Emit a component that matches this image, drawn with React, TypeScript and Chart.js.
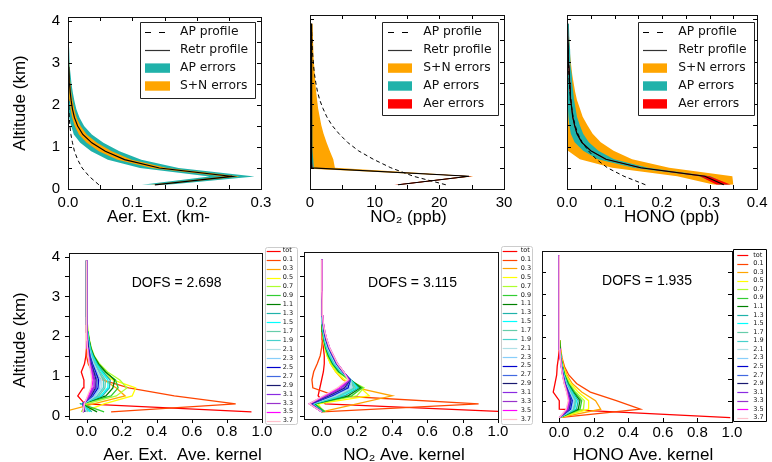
import React, { useEffect, useRef } from 'react';
import { Chart, registerables } from 'chart.js';

Chart.register(...registerables);

// ---------------- data ----------------
const ALT = [0.1, 0.3, 0.5, 0.7, 0.9, 1.1, 1.3, 1.5, 1.7, 1.9, 2.1, 2.3, 2.5, 2.7, 2.9, 3.1, 3.3, 3.5, 3.7, 3.9];

// Aerosol extinction (km-1)
const AER_RETR = [0.135, 0.255, 0.142, 0.088, 0.058, 0.037, 0.023, 0.015, 0.010, 0.007, 0.005, 0.0035, 0.0025, 0.0018, 0.0013, 0.001, 0.0008, 0.0006, 0.0004, 0.0003];
const AER_AP = [0.048, 0.033, 0.022, 0.015, 0.010, 0.007, 0.0045, 0.003, 0.002, 0.0014, 0.001, 0.0007, 0.0005, 0.0003, 0.0002, 0.0001, 0.0001, 0.0001, 0, 0];
const AER_ERR_AP = [0.02, 0.035, 0.03, 0.026, 0.022, 0.018, 0.014, 0.01, 0.008, 0.006, 0.005, 0.004, 0.003, 0.0024, 0.0018, 0.0014, 0.0011, 0.0009, 0.0007, 0.0005];
const AER_ERR_SN = [0.007, 0.012, 0.012, 0.011, 0.01, 0.008, 0.006, 0.0045, 0.0035, 0.0028, 0.0022, 0.0017, 0.0013, 0.001, 0.0008, 0.0006, 0.0005, 0.0004, 0.0003, 0.0002];

// NO2 (ppb)
const NO2_RETR = [13.6, 24.6, 0.3, 0.25, 0.25, 0.25, 0.25, 0.25, 0.25, 0.25, 0.25, 0.25, 0.25, 0.25, 0.25, 0.25, 0.25, 0.25, 0.25, 0.25];
const NO2_AP = [21, 16, 12.5, 9.8, 7.5, 5.8, 4.5, 3.4, 2.6, 2.0, 1.5, 1.15, 0.9, 0.7, 0.55, 0.45, 0.35, 0.3, 0.25, 0.2];
const NO2_ERR_SN = [0.4, 0.7, 3.55, 3.35, 2.8, 2.3, 1.85, 1.5, 1.25, 1.0, 0.85, 0.7, 0.58, 0.48, 0.4, 0.33, 0.27, 0.22, 0.18, 0.15];
const NO2_ERR_AP = [0.3, 0.4, 0.3, 0.25, 0.2, 0.15, 0.12, 0.1, 0.08, 0.07, 0.06, 0.05, 0.04, 0.04, 0.03, 0.03, 0.03, 0.02, 0.02, 0.02];
const NO2_ERR_AER = [0.6, 0.5, 0.1, 0.05, 0.04, 0.03, 0.02, 0.02, 0.01, 0.01, 0.01, 0.01, 0.01, 0.01, 0.01, 0.01, 0.01, 0.01, 0.01, 0.01];

// HONO (ppb)
const HONO_RETR = [0.33, 0.29, 0.155, 0.082, 0.05, 0.031, 0.021, 0.016, 0.012, 0.010, 0.008, 0.007, 0.006, 0.005, 0.004, 0.003, 0.0025, 0.002, 0.0015, 0.001];
const HONO_AP = [0.165, 0.12, 0.085, 0.062, 0.045, 0.032, 0.023, 0.017, 0.013, 0.010, 0.008, 0.006, 0.005, 0.004, 0.003, 0.0025, 0.002, 0.0015, 0.001, 0.001];
const HONO_ERR_SN = [0.02, 0.058, 0.06, 0.055, 0.048, 0.04, 0.033, 0.027, 0.021, 0.017, 0.013, 0.01, 0.008, 0.006, 0.005, 0.004, 0.003, 0.003, 0.002, 0.002];
const HONO_ERR_AP = [0.01, 0.012, 0.015, 0.017, 0.016, 0.015, 0.013, 0.011, 0.009, 0.008, 0.007, 0.006, 0.005, 0.005, 0.004, 0.004, 0.004, 0.003, 0.003, 0.003];
const HONO_ERR_AER = [0.015, 0.01, 0.004, 0.002, 0.001, 0.001, 0.001, 0.001, 0.001, 0.001, 0.001, 0.001, 0.001, 0.001, 0.001, 0.001, 0.001, 0.001, 0.001, 0.001];

// Averaging kernels
const AK_LABELS = ['tot', '0.1', '0.3', '0.5', '0.7', '0.9', '1.1', '1.3', '1.5', '1.7', '1.9', '2.1', '2.3', '2.5', '2.7', '2.9', '3.1', '3.3', '3.5', '3.7'];
const AK_COLORS = ['#ff0000', '#ff4500', '#ffa500', '#ffff00', '#adff2f', '#32cd32', '#008000', '#20b2aa', '#00ffff', '#66cdaa', '#48d1cc', '#b0e0e6', '#87cefa', '#0000cd', '#4169e1', '#191970', '#8a2be2', '#9932cc', '#ff00ff', '#ffc0cb'];

const AER_AK = [
  [0.94, -0.01, -0.05, -0.02, -0.015, -0.03, -0.012, -0.004, 0, 0, 0, 0, 0, 0, 0, 0, 0, 0, 0, 0],
  [0.14, 0.85, 0.50, 0.24, 0.09, 0.035, 0.01, 0.0, 0, 0, 0, 0, 0, 0, 0, 0, 0, 0, 0, 0],
  [-0.13, 0.04, 0.22, 0.17, 0.10, 0.06, 0.035, 0.02, 0.01, 0.005, 0.002, 0, 0, 0, 0, 0, 0, 0, 0, 0],
  [-0.02, 0.10, 0.26, 0.28, 0.15, 0.09, 0.055, 0.032, 0.018, 0.01, 0.005, 0.002, 0, 0, 0, 0, 0, 0, 0, 0],
  [-0.03, 0.0, 0.17, 0.23, 0.19, 0.12, 0.075, 0.045, 0.028, 0.017, 0.01, 0.005, 0.002, 0, 0, 0, 0, 0, 0, 0],
  [0.10, -0.03, 0.14, 0.18, 0.165, 0.105, 0.065, 0.04, 0.024, 0.014, 0.007, 0.003, 0.001, 0, 0, 0, 0, 0, 0, 0],
  [0.06, -0.03, 0.11, 0.15, 0.16, 0.11, 0.07, 0.042, 0.025, 0.015, 0.008, 0.003, 0.001, 0, 0, 0, 0, 0, 0, 0],
  [0.03, -0.03, 0.09, 0.13, 0.135, 0.095, 0.062, 0.038, 0.022, 0.013, 0.007, 0.003, 0.001, 0, 0, 0, 0, 0, 0, 0],
  [0.02, -0.028, 0.08, 0.12, 0.122, 0.086, 0.056, 0.034, 0.02, 0.012, 0.006, 0.002, 0.001, 0, 0, 0, 0, 0, 0, 0],
  [0.01, -0.026, 0.07, 0.105, 0.108, 0.078, 0.05, 0.03, 0.018, 0.01, 0.005, 0.002, 0.001, 0, 0, 0, 0, 0, 0, 0],
  [0.0, -0.025, 0.06, 0.095, 0.097, 0.071, 0.046, 0.028, 0.016, 0.009, 0.004, 0.002, 0.001, 0, 0, 0, 0, 0, 0, 0],
  [0.0, -0.022, 0.05, 0.085, 0.087, 0.064, 0.042, 0.025, 0.014, 0.008, 0.004, 0.002, 0.001, 0, 0, 0, 0, 0, 0, 0],
  [-0.01, -0.021, 0.045, 0.075, 0.078, 0.058, 0.038, 0.023, 0.013, 0.007, 0.003, 0.001, 0, 0, 0, 0, 0, 0, 0, 0],
  [-0.01, -0.02, 0.035, 0.065, 0.069, 0.052, 0.034, 0.02, 0.012, 0.006, 0.003, 0.001, 0, 0, 0, 0, 0, 0, 0, 0],
  [-0.01, -0.02, 0.03, 0.057, 0.061, 0.046, 0.03, 0.018, 0.01, 0.005, 0.002, 0.001, 0, 0, 0, 0, 0, 0, 0, 0],
  [-0.012, -0.019, 0.025, 0.05, 0.054, 0.041, 0.027, 0.016, 0.009, 0.005, 0.002, 0.001, 0, 0, 0, 0, 0, 0, 0, 0],
  [-0.015, -0.018, 0.02, 0.043, 0.048, 0.036, 0.024, 0.014, 0.008, 0.004, 0.002, 0.001, 0.001, 0.001, 0.001, 0.001, 0.001, 0.001, 0.001, 0.001],
  [-0.016, -0.016, 0.015, 0.037, 0.042, 0.032, 0.021, 0.012, 0.007, 0.003, 0.002, 0.001, 0.001, 0.001, 0.001, 0.001, 0.001, 0.001, 0.001, 0.001],
  [-0.018, -0.014, 0.01, 0.03, 0.036, 0.028, 0.018, 0.011, 0.006, 0.003, 0.001, 0.001, 0, 0, 0, 0, 0, 0, 0, 0],
  [-0.02, -0.012, 0.005, 0.024, 0.03, 0.024, 0.016, 0.01, 0.005, 0.002, 0.001, 0.001, 0, 0, 0, 0, 0, 0, 0, 0],
];

const NO2_AK = [
  [1.05, 0.02, -0.02, -0.01, 0.0, 0.01, 0.015, 0.015, 0.01, 0.006, 0.003, 0.001, 0, 0, 0, 0, 0, 0, 0, 0],
  [0.0, 0.89, 0.08, -0.05, -0.055, -0.045, -0.025, -0.008, 0.0, 0.004, 0.003, 0.001, 0, 0, 0, 0, 0, 0, 0, 0],
  [0.0, 0.2, 0.4, 0.2, 0.12, 0.08, 0.05, 0.032, 0.02, 0.011, 0.006, 0.003, 0.001, 0, 0, 0, 0, 0, 0, 0],
  [0.01, -0.02, 0.27, 0.22, 0.13, 0.08, 0.05, 0.03, 0.018, 0.01, 0.005, 0.002, 0.001, 0, 0, 0, 0, 0, 0, 0],
  [0.02, -0.035, 0.2, 0.24, 0.15, 0.09, 0.056, 0.034, 0.02, 0.011, 0.006, 0.003, 0.001, 0, 0, 0, 0, 0, 0, 0],
  [0.02, -0.04, 0.17, 0.23, 0.16, 0.095, 0.06, 0.037, 0.022, 0.012, 0.006, 0.003, 0.001, 0, 0, 0, 0, 0, 0, 0],
  [0.01, -0.045, 0.15, 0.22, 0.165, 0.1, 0.064, 0.04, 0.024, 0.013, 0.007, 0.003, 0.001, 0, 0, 0, 0, 0, 0, 0],
  [0.01, -0.05, 0.13, 0.21, 0.165, 0.104, 0.067, 0.043, 0.026, 0.015, 0.008, 0.004, 0.002, 0.001, 0, 0, 0, 0, 0, 0],
  [0.0, -0.05, 0.11, 0.2, 0.165, 0.108, 0.07, 0.046, 0.028, 0.016, 0.009, 0.004, 0.002, 0.001, 0, 0, 0, 0, 0, 0],
  [0.0, -0.055, 0.1, 0.19, 0.165, 0.111, 0.073, 0.049, 0.03, 0.018, 0.01, 0.005, 0.002, 0.001, 0.001, 0, 0, 0, 0, 0],
  [0.0, -0.055, 0.09, 0.18, 0.165, 0.114, 0.076, 0.052, 0.032, 0.019, 0.011, 0.005, 0.003, 0.002, 0.001, 0.001, 0, 0, 0, 0],
  [0.0, -0.06, 0.08, 0.17, 0.165, 0.116, 0.079, 0.055, 0.034, 0.021, 0.012, 0.006, 0.003, 0.002, 0.001, 0.001, 0.001, 0, 0, 0],
  [0.0, -0.06, 0.07, 0.16, 0.164, 0.118, 0.082, 0.058, 0.036, 0.022, 0.013, 0.007, 0.004, 0.002, 0.002, 0.001, 0.001, 0.001, 0, 0],
  [0.0, -0.06, 0.06, 0.15, 0.163, 0.12, 0.084, 0.061, 0.039, 0.024, 0.014, 0.008, 0.004, 0.003, 0.002, 0.001, 0.001, 0.001, 0.001, 0.001],
  [0.0, -0.065, 0.05, 0.14, 0.162, 0.122, 0.086, 0.063, 0.041, 0.026, 0.015, 0.008, 0.005, 0.003, 0.002, 0.002, 0.001, 0.001, 0.001, 0.001],
  [0.0, -0.065, 0.04, 0.13, 0.16, 0.123, 0.088, 0.065, 0.043, 0.027, 0.016, 0.009, 0.005, 0.003, 0.002, 0.002, 0.001, 0.001, 0.001, 0.001],
  [0.0, -0.065, 0.03, 0.12, 0.158, 0.124, 0.089, 0.066, 0.044, 0.028, 0.017, 0.01, 0.006, 0.004, 0.003, 0.002, 0.002, 0.001, 0.001, 0.001],
  [0.0, -0.07, 0.02, 0.11, 0.155, 0.124, 0.09, 0.067, 0.045, 0.029, 0.018, 0.01, 0.006, 0.004, 0.003, 0.002, 0.002, 0.001, 0.001, 0.001],
  [0.0, -0.07, 0.015, 0.1, 0.152, 0.125, 0.09, 0.068, 0.045, 0.03, 0.018, 0.01, 0.006, 0.004, 0.003, 0.002, 0.002, 0.001, 0.001, 0.001],
  [0.0, -0.07, 0.01, 0.09, 0.15, 0.125, 0.09, 0.068, 0.045, 0.03, 0.018, 0.01, 0.006, 0.004, 0.003, 0.002, 0.002, 0.001, 0.001, 0.001],
];

const HONO_AK = [
  [0.99, 0.0, 0.0, -0.035, -0.025, -0.015, -0.012, -0.005, 0, 0, 0, 0, 0, 0, 0, 0, 0, 0, 0, 0],
  [0.0, 0.47, 0.33, 0.18, 0.1, 0.055, 0.03, 0.016, 0.008, 0.004, 0.002, 0, 0, 0, 0, 0, 0, 0, 0, 0],
  [0.0, 0.24, 0.21, 0.13, 0.075, 0.045, 0.026, 0.014, 0.007, 0.003, 0.001, 0, 0, 0, 0, 0, 0, 0, 0, 0],
  [0.0, 0.17, 0.17, 0.11, 0.065, 0.04, 0.023, 0.012, 0.006, 0.003, 0.001, 0, 0, 0, 0, 0, 0, 0, 0, 0],
  [0.0, 0.14, 0.145, 0.095, 0.058, 0.035, 0.02, 0.011, 0.005, 0.002, 0.001, 0, 0, 0, 0, 0, 0, 0, 0, 0],
  [0.0, 0.12, 0.13, 0.088, 0.054, 0.032, 0.019, 0.01, 0.005, 0.002, 0.001, 0, 0, 0, 0, 0, 0, 0, 0, 0],
  [0.0, 0.11, 0.12, 0.082, 0.05, 0.03, 0.018, 0.01, 0.005, 0.002, 0.001, 0, 0, 0, 0, 0, 0, 0, 0, 0],
  [0.0, 0.1, 0.11, 0.077, 0.047, 0.028, 0.017, 0.009, 0.004, 0.002, 0.001, 0, 0, 0, 0, 0, 0, 0, 0, 0],
  [0.0, 0.09, 0.1, 0.072, 0.044, 0.027, 0.016, 0.009, 0.004, 0.002, 0.001, 0, 0, 0, 0, 0, 0, 0, 0, 0],
  [0.0, 0.085, 0.095, 0.068, 0.042, 0.026, 0.015, 0.008, 0.004, 0.002, 0.001, 0, 0, 0, 0, 0, 0, 0, 0, 0],
  [0.0, 0.08, 0.09, 0.064, 0.04, 0.025, 0.015, 0.008, 0.004, 0.002, 0.001, 0, 0, 0, 0, 0, 0, 0, 0, 0],
  [0.0, 0.075, 0.085, 0.06, 0.038, 0.024, 0.014, 0.008, 0.004, 0.002, 0.001, 0, 0, 0, 0, 0, 0, 0, 0, 0],
  [0.0, 0.07, 0.08, 0.057, 0.036, 0.023, 0.014, 0.007, 0.003, 0.002, 0.001, 0, 0, 0, 0, 0, 0, 0, 0, 0],
  [0.0, 0.065, 0.075, 0.054, 0.034, 0.022, 0.013, 0.007, 0.003, 0.002, 0.001, 0, 0, 0, 0, 0, 0, 0, 0, 0],
  [0.0, 0.06, 0.07, 0.052, 0.033, 0.021, 0.013, 0.007, 0.003, 0.001, 0.001, 0, 0, 0, 0, 0, 0, 0, 0, 0],
  [0.0, 0.056, 0.066, 0.05, 0.032, 0.02, 0.012, 0.006, 0.003, 0.001, 0.001, 0, 0, 0, 0, 0, 0, 0, 0, 0],
  [0.0, 0.052, 0.062, 0.048, 0.031, 0.02, 0.012, 0.006, 0.003, 0.001, 0.001, 0, 0, 0, 0, 0, 0, 0, 0, 0],
  [0.0, 0.048, 0.058, 0.046, 0.03, 0.019, 0.012, 0.006, 0.003, 0.001, 0.001, 0, 0, 0, 0, 0, 0, 0, 0, 0],
  [0.0, 0.044, 0.055, 0.044, 0.029, 0.019, 0.011, 0.006, 0.003, 0.001, 0.001, 0, 0, 0, 0, 0, 0, 0, 0, 0],
  [0.0, 0.04, 0.052, 0.042, 0.028, 0.018, 0.011, 0.006, 0.003, 0.001, 0.001, 0, 0, 0, 0, 0, 0, 0, 0, 0],
];

const DOFS = ['2.698', '3.115', '1.935'];

// tick values
const ALT_LABELS = [0, 1, 2, 3, 4];
const ALT_MARKS = [0, 0.5, 1, 1.5, 2, 2.5, 3, 3.5, 4];
const AER_X_LABELS = [0, 0.1, 0.2, 0.3];
const AER_X_MARKS = [0, 0.05, 0.1, 0.15, 0.2, 0.25, 0.3];
const NO2_X_LABELS = [0, 10, 20, 30];
const NO2_X_MARKS = [0, 5, 10, 15, 20, 25, 30];
const HONO_X_LABELS = [0, 0.1, 0.2, 0.3, 0.4];
const HONO_X_MARKS = [0, 0.05, 0.1, 0.15, 0.2, 0.25, 0.3, 0.35, 0.4];
const AK_X_LABELS = [0, 0.2, 0.4, 0.6, 0.8, 1.0];

// ---------------- styling ----------------
const TEAL = '#20b2aa';
const ORANGE = '#ffa500';
const RED = '#ff0000';
const SANS = "'Liberation Sans', Arial, sans-serif";
const TICK_FONT = { family: SANS, size: 15 };
const TITLE_FONT = `17px ${SANS}`;
const DOFS_FONT = `14px ${SANS}`;
const LEG_FONT = "12.3px 'DejaVu Sans', sans-serif";
const SMALL_FONT = "6.5px 'DejaVu Sans', sans-serif";

const pts = (xs: number[]) => ALT.map((a, i) => ({ x: xs[i], y: a }));

function lineSet(xs: number[], color: string, width: number, dash?: number[]) {
  return { data: pts(xs), borderColor: color, borderWidth: width, borderDash: dash || [], pointRadius: 0, fill: false };
}
function bandSets(center: number[], hw: number[], color: string) {
  return [
    { data: pts(center.map((c, i) => c - hw[i])), borderWidth: 0, borderColor: 'rgba(0,0,0,0)', backgroundColor: color, fill: '+1', pointRadius: 0 },
    { data: pts(center.map((c, i) => c + hw[i])), borderWidth: 0, borderColor: 'rgba(0,0,0,0)', backgroundColor: color, fill: false, pointRadius: 0 },
  ];
}
function akSets(rows: number[][]) {
  return rows.map((r, i) => ({
    label: AK_LABELS[i], data: pts(r), borderColor: AK_COLORS[i], borderWidth: 1.3,
    pointRadius: 0, fill: false, order: rows.length - i,
  }));
}

type Rect = { x: number; y: number; w: number; h: number };
type Spec = {
  rect: Rect; frame: { l: number; r: number; t: number; b: number };
  xMin: number; xMax: number; yMin: number; yMax: number;
  xLabels: number[]; xFmt: (v: number) => string; xMarks: number[]; xPad: number;
  yLabels: number[] | null; yMarks: number[]; yPad: number;
  tickDir: number; tickSides: string[];
  datasets: any[];
  legend: any;
  texts: any[];
};

const fmt1 = (v: number) => v.toFixed(1);
const fmt0 = (v: number) => String(Math.round(v));

function topLegend(box: Rect, hx0: number, hx1: number, tx: number, items: any[]) {
  return { box, hx0, hx1, tx, y0: 32.3, dy: 17.9, ph: 9.4, lw: 1.2, font: LEG_FONT, border: '#222', radius: 0, items, dash: [6, 8] };
}
function akLegend(box: Rect, hx0: number, hx1: number, tx: number, y0: number, dy: number, border: string, radius: number) {
  return {
    box, hx0, hx1, tx, y0, dy, ph: 0, lw: 1.2, font: SMALL_FONT, border, radius, dash: [],
    items: AK_LABELS.map((l, i) => ({ label: l, kind: 'line', color: AK_COLORS[i] })),
  };
}

const LEG_AER = [
  { label: 'AP profile', kind: 'dash', color: '#000' },
  { label: 'Retr profile', kind: 'line', color: '#333' },
  { label: 'AP errors', kind: 'patch', color: TEAL },
  { label: 'S+N errors', kind: 'patch', color: ORANGE },
];
const LEG_GAS = [
  { label: 'AP profile', kind: 'dash', color: '#000' },
  { label: 'Retr profile', kind: 'line', color: '#333' },
  { label: 'S+N errors', kind: 'patch', color: ORANGE },
  { label: 'AP errors', kind: 'patch', color: TEAL },
  { label: 'Aer errors', kind: 'patch', color: RED },
];

const SPECS: Spec[] = [
  {
    rect: { x: 0, y: 0, w: 280, h: 235 }, frame: { l: 68, r: 261, t: 15, b: 189 },
    xMin: 0, xMax: 0.3, yMin: 0, yMax: 4.1,
    xLabels: AER_X_LABELS, xFmt: fmt1, xMarks: AER_X_MARKS, xPad: 4.5,
    yLabels: ALT_LABELS, yMarks: ALT_MARKS, yPad: 8,
    tickDir: 1, tickSides: ['left', 'right', 'top', 'bottom'],
    datasets: [
      lineSet(AER_RETR, '#000', 1.2),
      lineSet(AER_AP, '#000', 1, [4, 3]),
      ...bandSets(AER_RETR, AER_ERR_SN, ORANGE),
      ...bandSets(AER_RETR, AER_ERR_AP, TEAL),
    ],
    legend: topLegend({ x: 140, y: 21.7, w: 115, h: 76 }, 145, 170, 180, LEG_AER),
    texts: [
      { text: 'Altitude (km)', x: 20, y: 103, font: TITLE_FONT, align: 'center', rot: true },
      { text: 'Aer. Ext. (km-', x: 107, y: 217, font: TITLE_FONT, align: 'left' },
    ],
  },
  {
    rect: { x: 275, y: 0, w: 245, h: 235 }, frame: { l: 310, r: 504, t: 15, b: 189 },
    xMin: 0, xMax: 30, yMin: 0, yMax: 4.1,
    xLabels: NO2_X_LABELS, xFmt: fmt0, xMarks: NO2_X_MARKS, xPad: 4.5,
    yLabels: null, yMarks: ALT_MARKS, yPad: 8,
    tickDir: 1, tickSides: ['left', 'right', 'top', 'bottom'],
    datasets: [
      lineSet(NO2_RETR, '#000', 1.2),
      lineSet(NO2_AP, '#000', 1, [4, 3]),
      ...bandSets(NO2_RETR, NO2_ERR_AER, RED),
      ...bandSets(NO2_RETR, NO2_ERR_AP, TEAL),
      ...bandSets(NO2_RETR, NO2_ERR_SN, ORANGE),
    ],
    legend: topLegend({ x: 381.7, y: 21.7, w: 116, h: 93.3 }, 388, 412, 423.3, LEG_GAS),
    texts: [{ text: 'NO₂ (ppb)', x: 408.5, y: 217, font: TITLE_FONT, align: 'center' }],
  },
  {
    rect: { x: 515, y: 0, w: 257, h: 235 }, frame: { l: 567, r: 759, t: 15, b: 189 },
    xMin: 0, xMax: 0.4, yMin: 0, yMax: 4.1,
    xLabels: HONO_X_LABELS, xFmt: fmt1, xMarks: HONO_X_MARKS, xPad: 4.5,
    yLabels: null, yMarks: ALT_MARKS, yPad: 8,
    tickDir: 1, tickSides: ['left', 'right', 'top', 'bottom'],
    datasets: [
      lineSet(HONO_RETR, '#000', 1.2),
      lineSet(HONO_AP, '#000', 1, [4, 3]),
      ...bandSets(HONO_RETR, HONO_ERR_AER, RED),
      ...bandSets(HONO_RETR, HONO_ERR_AP, TEAL),
      ...bandSets(HONO_RETR, HONO_ERR_SN, ORANGE),
    ],
    legend: topLegend({ x: 638.3, y: 21.7, w: 116, h: 93.3 }, 643, 667, 678.3, LEG_GAS),
    texts: [{ text: 'HONO (ppb)', x: 671.7, y: 217, font: TITLE_FONT, align: 'center' }],
  },
  {
    rect: { x: 0, y: 235, w: 300, h: 227 }, frame: { l: 69, r: 262, t: 252, b: 419 },
    xMin: -0.1, xMax: 1.0, yMin: -0.08, yMax: 4.09,
    xLabels: AK_X_LABELS, xFmt: fmt1, xMarks: AK_X_LABELS, xPad: 3.7,
    yLabels: ALT_LABELS, yMarks: ALT_MARKS, yPad: 9,
    tickDir: -1, tickSides: ['left', 'bottom'],
    datasets: akSets(AER_AK),
    legend: akLegend({ x: 265, y: 246.7, w: 31.7, h: 176.6 }, 266.7, 280.7, 282.7, 250.7, 8.95, '#cccccc', 2),
    texts: [
      { text: 'Altitude (km)', x: 20, y: 340, font: TITLE_FONT, align: 'center', rot: true },
      { text: 'Aer. Ext.  Ave. kernel', x: 182.5, y: 455, font: TITLE_FONT, align: 'center' },
      { text: `DOFS = ${DOFS[0]}`, x: 176.7, y: 283.5, font: DOFS_FONT, align: 'center' },
    ],
  },
  {
    rect: { x: 300, y: 235, w: 235, h: 227 }, frame: { l: 304, r: 498, t: 252, b: 419 },
    xMin: -0.1, xMax: 1.0, yMin: -0.08, yMax: 4.09,
    xLabels: AK_X_LABELS, xFmt: fmt1, xMarks: AK_X_LABELS, xPad: 3.7,
    yLabels: null, yMarks: ALT_MARKS, yPad: 9,
    tickDir: -1, tickSides: ['left', 'bottom'],
    datasets: akSets(NO2_AK),
    legend: akLegend({ x: 501, y: 246, w: 31, h: 178 }, 502.7, 517.3, 520.7, 250.7, 8.85, '#cccccc', 2),
    texts: [
      { text: 'NO₂ Ave. kernel', x: 404, y: 455, font: TITLE_FONT, align: 'center' },
      { text: `DOFS = ${DOFS[1]}`, x: 412.5, y: 283.5, font: DOFS_FONT, align: 'center' },
    ],
  },
  {
    rect: { x: 535, y: 235, w: 237, h: 227 }, frame: { l: 542, r: 732, t: 251, b: 422 },
    xMin: -0.1, xMax: 1.0, yMin: 0, yMax: 4,
    xLabels: AK_X_LABELS, xFmt: fmt1, xMarks: AK_X_LABELS, xPad: 1.5,
    yLabels: null, yMarks: ALT_MARKS, yPad: 9,
    tickDir: 1, tickSides: ['left', 'right', 'bottom'],
    datasets: akSets(HONO_AK),
    legend: akLegend({ x: 733.3, y: 249.3, w: 33.4, h: 171.7 }, 737.3, 748.3, 753.3, 255, 8.56, '#000000', 0),
    texts: [
      { text: 'HONO Ave. kernel', x: 643, y: 455, font: TITLE_FONT, align: 'center' },
      { text: `DOFS = ${DOFS[2]}`, x: 647, y: 281.3, font: DOFS_FONT, align: 'center' },
    ],
  },
];

function roundRectPath(ctx: CanvasRenderingContext2D, x: number, y: number, w: number, h: number, r: number) {
  ctx.beginPath();
  ctx.moveTo(x + r, y);
  ctx.lineTo(x + w - r, y);
  if (r) ctx.arcTo(x + w, y, x + w, y + r, r);
  ctx.lineTo(x + w, y + h - r);
  if (r) ctx.arcTo(x + w, y + h, x + w - r, y + h, r);
  ctx.lineTo(x + r, y + h);
  if (r) ctx.arcTo(x, y + h, x, y + h - r, r);
  ctx.lineTo(x, y + r);
  if (r) ctx.arcTo(x, y, x + r, y, r);
  ctx.closePath();
}

function decoPlugin(spec: Spec) {
  return {
    id: 'panelDeco',
    afterDraw(chart: any) {
      const ctx: CanvasRenderingContext2D = chart.ctx;
      const a = chart.chartArea;
      const xs = chart.scales.x;
      const ys = chart.scales.y;
      const ox = spec.rect.x;
      const oy = spec.rect.y;
      ctx.save();
      ctx.strokeStyle = '#000';
      ctx.lineWidth = 1;
      ctx.beginPath();
      const L = 4 * spec.tickDir;
      for (const side of spec.tickSides) {
        if (side === 'left' || side === 'right') {
          for (const v of spec.yMarks) {
            if (v < spec.yMin || v > spec.yMax) continue;
            const py = Math.round(ys.getPixelForValue(v)) + 0.5;
            const x0 = side === 'left' ? a.left : a.right;
            const d = side === 'left' ? L : -L;
            ctx.moveTo(x0, py);
            ctx.lineTo(x0 + d, py);
          }
        } else {
          for (const v of spec.xMarks) {
            const px = Math.round(xs.getPixelForValue(v)) + 0.5;
            const y0 = side === 'top' ? a.top : a.bottom;
            const d = side === 'top' ? L : -L;
            ctx.moveTo(px, y0);
            ctx.lineTo(px, y0 + d);
          }
        }
      }
      ctx.stroke();
      ctx.strokeStyle = '#111';
      ctx.strokeRect(Math.round(a.left) + 0.5, Math.round(a.top) + 0.5, Math.round(a.right - a.left), Math.round(a.bottom - a.top));

      const lg = spec.legend;
      if (lg) {
        const bx = lg.box.x - ox;
        const by = lg.box.y - oy;
        roundRectPath(ctx, Math.round(bx) + 0.5, Math.round(by) + 0.5, Math.round(lg.box.w), Math.round(lg.box.h), lg.radius);
        ctx.fillStyle = '#fff';
        ctx.fill();
        ctx.strokeStyle = lg.border;
        ctx.lineWidth = 1;
        ctx.stroke();
        ctx.font = lg.font;
        ctx.textAlign = 'left';
        ctx.textBaseline = 'middle';
        lg.items.forEach((it: any, i: number) => {
          const y = lg.y0 - oy + i * lg.dy;
          const hx0 = lg.hx0 - ox;
          const hx1 = lg.hx1 - ox;
          if (it.kind === 'patch') {
            ctx.fillStyle = it.color;
            ctx.fillRect(hx0, y - lg.ph / 2, hx1 - hx0, lg.ph);
          } else {
            ctx.strokeStyle = it.color;
            ctx.lineWidth = lg.lw;
            ctx.setLineDash(it.kind === 'dash' ? lg.dash : []);
            ctx.beginPath();
            ctx.moveTo(hx0, Math.round(y) + 0.5);
            ctx.lineTo(hx1, Math.round(y) + 0.5);
            ctx.stroke();
            ctx.setLineDash([]);
          }
          ctx.fillStyle = '#111';
          ctx.fillText(it.label, lg.tx - ox, y);
        });
      }
      for (const t of spec.texts) {
        ctx.save();
        ctx.font = t.font;
        ctx.fillStyle = '#000';
        ctx.textAlign = t.align;
        ctx.textBaseline = 'middle';
        ctx.translate(t.x - ox, t.y - oy);
        if (t.rot) ctx.rotate(-Math.PI / 2);
        ctx.fillText(t.text, 0, 0);
        ctx.restore();
      }
      ctx.restore();
    },
  };
}

function buildConfig(spec: Spec): any {
  const { rect, frame } = spec;
  const yW = spec.yLabels ? 40 : 0;
  const xH = 30;
  return {
    type: 'line',
    data: { datasets: spec.datasets },
    options: {
      animation: false,
      responsive: false,
      devicePixelRatio: 1,
      indexAxis: 'y',
      layout: {
        autoPadding: false,
        padding: {
          left: frame.l - rect.x - yW,
          right: rect.x + rect.w - frame.r,
          top: frame.t - rect.y,
          bottom: rect.y + rect.h - frame.b - xH,
        },
      },
      plugins: { legend: { display: false }, tooltip: { enabled: false } },
      elements: { point: { radius: 0 }, line: { tension: 0 } },
      scales: {
        x: {
          type: 'linear', position: 'bottom', min: spec.xMin, max: spec.xMax,
          grid: { display: false, drawTicks: false }, border: { display: false },
          afterFit: (s: any) => { s.height = xH; },
          afterBuildTicks: (s: any) => { s.ticks = spec.xLabels.map((v) => ({ value: v })); },
          ticks: { autoSkip: false, maxRotation: 0, minRotation: 0, padding: spec.xPad, font: TICK_FONT, color: '#000', callback: (v: any) => spec.xFmt(Number(v)) },
        },
        y: {
          type: 'linear', position: 'left', min: spec.yMin, max: spec.yMax,
          grid: { display: false, drawTicks: false }, border: { display: false },
          afterFit: (s: any) => { s.width = yW; },
          afterBuildTicks: (s: any) => { s.ticks = (spec.yLabels || []).map((v) => ({ value: v })); },
          ticks: { display: !!spec.yLabels, autoSkip: false, padding: spec.yPad, font: TICK_FONT, color: '#000', callback: (v: any) => fmt0(Number(v)) },
        },
      },
    },
    plugins: [decoPlugin(spec)],
  };
}

function Panel({ spec }: { spec: Spec }) {
  const ref = useRef<HTMLCanvasElement>(null);
  useEffect(() => {
    const chart = new Chart(ref.current as HTMLCanvasElement, buildConfig(spec));
    return () => chart.destroy();
  }, [spec]);
  const { x, y, w, h } = spec.rect;
  return (
    <canvas
      ref={ref}
      width={w}
      height={h}
      style={{ position: 'absolute', left: x, top: y, width: w, height: h }}
    />
  );
}

export default function App() {
  useEffect(() => {
    document.body.style.margin = '0';
    document.body.style.background = '#fff';
  }, []);
  return (
    <div style={{ position: 'relative', width: 772, height: 462, background: '#fff', overflow: 'hidden' }}>
      {SPECS.map((s, i) => (
        <Panel key={i} spec={s} />
      ))}
    </div>
  );
}
